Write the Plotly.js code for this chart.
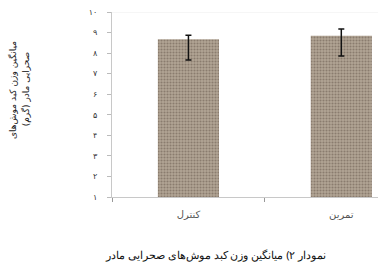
<!DOCTYPE html>
<html><head><meta charset="utf-8">
<script src="https://cdn.plot.ly/plotly-3.0.1.min.js"></script>
<style>html,body{margin:0;padding:0;background:#fff;overflow:hidden}</style>
</head><body><div id="chart" style="width:379px;height:271px"></div>
<script>
var categories = ['کنترل', 'تمرین'];
var means = [8.68, 8.84];
var errPlus = [0.19, 0.33];
var errMinus = [1.02, 0.98];
var yTickVals = [1,2,3,4,5,6,7,8,9,10];
var yTickText = ['۱','۲','۳','۴','۵','۶','۷','۸','۹','۱۰'];
var yTitleLines = ['میانگین وزن کبد موش‌های', 'صحرایی مادر (گرم)'];
var caption = 'نمودار ۲) میانگین وزن کبد موش‌های صحرایی مادر';

var trace = {
  type: 'bar', x: categories, y: means, width: 0.4,
  marker: {color: '#ab9e8f', line: {width: 0},
    pattern: {shape: '.', bgcolor: '#b2a595', fgcolor: '#8a7c6e', size: 3, solidity: 0.4, fillmode: 'replace'}},
  error_y: {type: 'data', symmetric: false, array: errPlus, arrayminus: errMinus,
    color: '#111', thickness: 1.5, width: 3}
};
var layout = {
  width: 379, height: 271,
  margin: {l: 112, r: 1, t: 12, b: 74},
  paper_bgcolor: '#fff', plot_bgcolor: '#fff', showlegend: false,
  font: {family: 'DejaVu Sans', color: '#333'},
  xaxis: {type: 'category', range: [-0.5, 1.24], showline: true, linecolor: '#c8c8c8', linewidth: 1,
    ticks: 'outside', tickson: 'boundaries', ticklen: 4, tickcolor: '#999', showgrid: false,
    tickfont: {size: 10, color: '#555'}, zeroline: false, ticklabelstandoff: 8},
  yaxis: {range: [1, 10], tickvals: yTickVals, ticktext: yTickText, showline: true, linecolor: '#c8c8c8',
    linewidth: 1, ticks: 'outside', ticklen: 4, tickcolor: '#bbb', showgrid: false, zeroline: false,
    tickfont: {size: 8, color: '#333'}, ticklabelstandoff: 8},
  shapes: [{type: 'line', xref: 'paper', yref: 'y', x0: 0, x1: 1, y0: 10, y1: 10, line: {color: '#eeeeee', width: 1}}],
  annotations: [
    {text: yTitleLines[0], textangle: -90, xref: 'paper', yref: 'paper', x: -0.375, y: 0.58,
      xanchor: 'center', yanchor: 'middle', showarrow: false, font: {size: 9, color: '#222'}},
    {text: yTitleLines[1], textangle: -90, xref: 'paper', yref: 'paper', x: -0.325, y: 0.58,
      xanchor: 'center', yanchor: 'middle', showarrow: false, font: {size: 9, color: '#222'}},
    {text: caption, xref: 'paper', yref: 'paper', x: 0.39, y: -0.31, yanchor: 'middle', showarrow: false,
      font: {family: 'Noto Sans', size: 11, color: '#111'}}
  ]
};
Plotly.newPlot('chart', [trace], layout, {staticPlot: true, displayModeBar: false});
</script></body></html>
